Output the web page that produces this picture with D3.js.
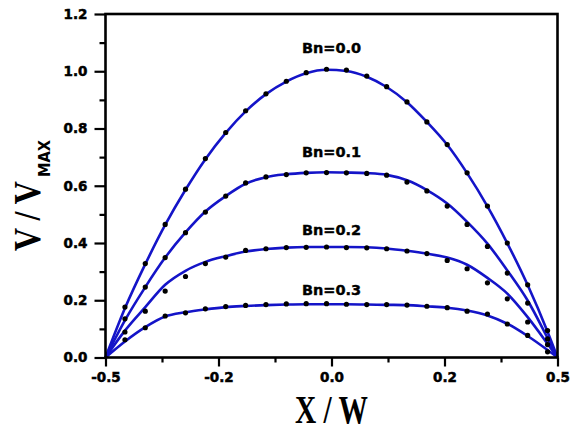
<!DOCTYPE html>
<html>
<head>
<meta charset="utf-8">
<script src="https://cdn.jsdelivr.net/npm/d3@7"></script>
<style>
  html, body { margin: 0; padding: 0; background: #fff; }
  svg { display: block; }
</style>
</head>
<body>
<svg id="chart" width="570" height="432"></svg>
<script>
// Velocity profiles across the channel for several Bingham numbers.
// Solid lines: model profiles. Dots: computed values.

const seriesNames = ["Bn=0.0", "Bn=0.1", "Bn=0.2", "Bn=0.3"];

// x positions of the model curves
const lineX = [-0.5, -0.457, -0.412, -0.368, -0.323, -0.279, -0.234, -0.190, -0.145, -0.100, -0.056, -0.011,
               0.033, 0.078, 0.122, 0.167, 0.211, 0.256, 0.300, 0.345, 0.389, 0.434, 0.478, 0.5];

const bn0Line = [0, 0.172, 0.326, 0.463, 0.586, 0.693, 0.785, 0.860, 0.920, 0.964, 0.993, 1.005,
                 1.001, 0.981, 0.945, 0.892, 0.823, 0.743, 0.644, 0.528, 0.399, 0.253, 0.090, 0];
const bn1Line = [0, 0.130, 0.246, 0.349, 0.437, 0.510, 0.564, 0.607, 0.630, 0.640, 0.645, 0.647,
                 0.646, 0.644, 0.638, 0.619, 0.585, 0.538, 0.474, 0.398, 0.304, 0.199, 0.068, 0];
const bn2Line = [0, 0.094, 0.176, 0.254, 0.303, 0.334, 0.354, 0.370, 0.379, 0.384, 0.386, 0.386,
                 0.386, 0.385, 0.381, 0.373, 0.363, 0.349, 0.324, 0.278, 0.223, 0.141, 0.048, 0];
const bn3Line = [0, 0.056, 0.106, 0.143, 0.158, 0.168, 0.176, 0.180, 0.183, 0.185, 0.186, 0.186,
                 0.186, 0.185, 0.184, 0.183, 0.179, 0.174, 0.164, 0.147, 0.118, 0.075, 0.026, 0];

// x positions of the computed points
const pointX = [-0.457, -0.412, -0.368, -0.323, -0.279, -0.234, -0.190, -0.145, -0.100, -0.056, -0.011,
                0.033, 0.078, 0.122, 0.167, 0.211, 0.256, 0.300, 0.345, 0.389, 0.434, 0.478];

const bn0Pts = [0.176, 0.328, 0.465, 0.588, 0.695, 0.786, 0.862, 0.921, 0.965, 0.995, 1.007,
                1.004, 0.983, 0.946, 0.893, 0.823, 0.744, 0.645, 0.529, 0.400, 0.254, 0.094];
const bn1Pts = [0.135, 0.246, 0.349, 0.436, 0.508, 0.564, 0.610, 0.631, 0.639, 0.645, 0.646,
                0.645, 0.643, 0.637, 0.613, 0.582, 0.529, 0.465, 0.388, 0.295, 0.190, 0.065];
const bn2Pts = [0.089, 0.162, 0.232, 0.283, 0.328, 0.351, 0.374, 0.380, 0.384, 0.385, 0.386,
                0.384, 0.383, 0.380, 0.372, 0.363, 0.339, 0.310, 0.261, 0.205, 0.124, 0.045];
const bn3Pts = [0.062, 0.104, 0.145, 0.156, 0.170, 0.178, 0.182, 0.185, 0.187, 0.188, 0.188,
                0.186, 0.185, 0.185, 0.183, 0.179, 0.174, 0.162, 0.152, 0.117, 0.077, 0.020];

// curve label heights (in V/Vmax units)
const labelY = [1.064, 0.700, 0.427, 0.217];

// axis ticks
const xMajor = [-0.5, -0.25, 0, 0.25, 0.5];
const xMajorLabels = ["-0.5", "-0.2", "0.0", "0.2", "0.5"];
const xMinor = [-0.375, -0.125, 0.125, 0.375];
const yMajor = [0, 0.2, 0.4, 0.6, 0.8, 1.0, 1.2];
const yMajorLabels = ["0.0", "0.2", "0.4", "0.6", "0.8", "1.0", "1.2"];
const yMinor = [0.1, 0.3, 0.5, 0.7, 0.9, 1.1];

const lines = [bn0Line, bn1Line, bn2Line, bn3Line];
const points = [bn0Pts, bn1Pts, bn2Pts, bn3Pts];

const svg = d3.select("#chart");
const x = d3.scaleLinear().domain([-0.5, 0.5]).range([105.5, 557.5]);
const y = d3.scaleLinear().domain([0, 1.2]).range([357.5, 14]);

const tickFont = "'DejaVu Sans', sans-serif";
const blue = "#1414c8";

function styleAxis(g) {
  g.select(".domain").remove();
  g.selectAll(".tick line").attr("stroke", "#000").attr("stroke-width", 2.2);
  g.selectAll(".tick text")
    .attr("font-family", tickFont)
    .attr("font-weight", "bold")
    .attr("font-size", 13.5)
    .attr("stroke", "#000")
    .attr("stroke-width", 0.5)
    .attr("fill", "#000");
}

// x axis
svg.append("g")
  .attr("transform", `translate(0,${y(0)})`)
  .call(d3.axisBottom(x).tickValues(xMinor).tickSize(5).tickFormat(""))
  .call(styleAxis);
svg.append("g")
  .attr("transform", `translate(0,${y(0)})`)
  .call(d3.axisBottom(x).tickValues(xMajor).tickSize(9).tickPadding(6)
    .tickFormat((d, i) => xMajorLabels[i]))
  .call(styleAxis);

// y axis
svg.append("g")
  .attr("transform", `translate(${x(-0.5)},0)`)
  .call(d3.axisLeft(y).tickValues(yMinor).tickSize(6).tickFormat(""))
  .call(styleAxis);
svg.append("g")
  .attr("transform", `translate(${x(-0.5)},0)`)
  .call(d3.axisLeft(y).tickValues(yMajor).tickSize(11).tickPadding(7)
    .tickFormat((d, i) => yMajorLabels[i]))
  .call(styleAxis);

// curves
const lineGen = d3.line()
  .x((d, i) => x(lineX[i]))
  .y(d => y(d))
  .curve(d3.curveMonotoneX);

svg.append("g").selectAll("path")
  .data(lines)
  .join("path")
  .attr("d", lineGen)
  .attr("fill", "none")
  .attr("stroke", blue)
  .attr("stroke-width", 2.6)
  .attr("stroke-linejoin", "round");

// computed points
svg.append("g").selectAll("g")
  .data(points)
  .join("g")
  .selectAll("circle")
  .data(d => d)
  .join("circle")
  .attr("cx", (d, i) => x(pointX[i]))
  .attr("cy", d => y(d))
  .attr("r", 2.6)
  .attr("fill", "#000");

// curve labels
svg.append("g").selectAll("text")
  .data(seriesNames)
  .join("text")
  .attr("x", x(0))
  .attr("y", (d, i) => y(labelY[i]))
  .attr("text-anchor", "middle")
  .attr("font-family", tickFont)
  .attr("font-weight", "bold")
  .attr("font-size", 14.5)
  .attr("stroke", "#000")
  .attr("stroke-width", 0.4)
  .attr("fill", "#000")
  .text(d => d);

// plot frame
svg.append("rect")
  .attr("x", x(-0.5))
  .attr("y", y(1.2))
  .attr("width", x(0.5) - x(-0.5))
  .attr("height", y(0) - y(1.2))
  .attr("fill", "none")
  .attr("stroke", "#000")
  .attr("stroke-width", 2.6);

// axis titles
svg.append("text")
  .attr("x", x(0))
  .attr("y", 423)
  .attr("text-anchor", "middle")
  .attr("font-family", "'Liberation Serif', serif")
  .attr("font-weight", "bold")
  .attr("font-size", 39)
  .attr("textLength", 73)
  .attr("lengthAdjust", "spacingAndGlyphs")
  .attr("fill", "#000")
  .text("X / W");

const yTitle = svg.append("g").attr("transform", "translate(40,251) rotate(-90)");
yTitle.append("text")
  .attr("x", 0).attr("y", 0)
  .attr("font-family", "'Liberation Serif', serif")
  .attr("font-weight", "bold")
  .attr("font-size", 38)
  .attr("textLength", 70)
  .attr("lengthAdjust", "spacingAndGlyphs")
  .attr("fill", "#000")
  .text("V / V");
yTitle.append("text")
  .attr("x", 74).attr("y", 10)
  .attr("font-family", tickFont)
  .attr("font-weight", "bold")
  .attr("font-size", 15)
  .attr("textLength", 37)
  .attr("lengthAdjust", "spacingAndGlyphs")
  .attr("fill", "#000")
  .text("MAX");
</script>
</body>
</html>
